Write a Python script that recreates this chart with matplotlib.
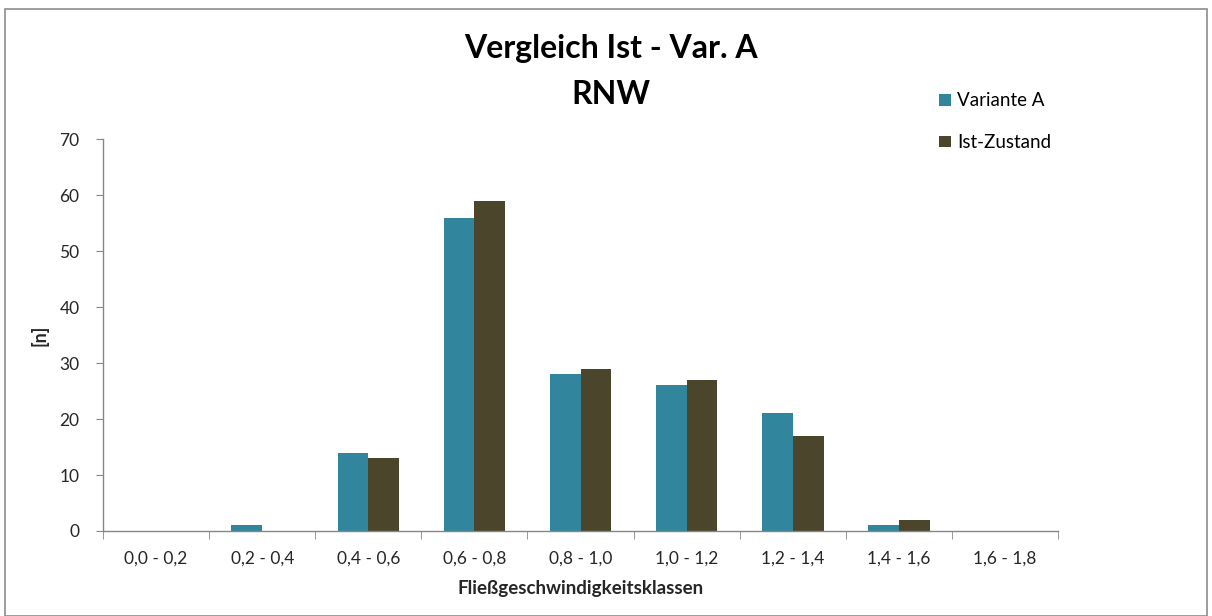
import matplotlib
matplotlib.use("Agg")
import matplotlib.pyplot as plt
from matplotlib.patches import Rectangle
import numpy as np

plt.rcParams['font.family'] = ['Lato', 'DejaVu Sans']

categories = ["0,0 - 0,2", "0,2 - 0,4", "0,4 - 0,6", "0,6 - 0,8", "0,8 - 1,0",
              "1,0 - 1,2", "1,2 - 1,4", "1,4 - 1,6", "1,6 - 1,8"]
variante_a = [0, 1, 14, 56, 28, 26, 21, 1, 0]
ist_zustand = [0, 0, 13, 59, 29, 27, 17, 2, 0]
y_ticks = [0, 10, 20, 30, 40, 50, 60, 70]

teal = "#31859C"
brown = "#4A452B"
axis_gray = "#868686"
text_col = "#262626"

fig = plt.figure(figsize=(12.12, 6.16), dpi=100)
ax = fig.add_axes([0.085, 0.138, 0.788, 0.636])

# outer chart frame
fig.patches.append(Rectangle((0.004, 0.0), 0.992, 0.985, transform=fig.transFigure,
                             fill=False, edgecolor="#8c8c8c", linewidth=1.2))

x = np.arange(len(categories))
w = 0.29
ax.bar(x - w / 2, variante_a, width=w, color=teal, label="Variante A")
ax.bar(x + w / 2, ist_zustand, width=w, color=brown, label="Ist-Zustand")

ax.set_xlim(-0.5, len(categories) - 0.5)
ax.set_ylim(0, 70)
ax.set_yticks(y_ticks)
ax.set_yticklabels([str(v) for v in y_ticks], fontsize=12.5, color=text_col)
ax.set_xticks(x)
ax.set_xticklabels(categories, fontsize=12.5, color=text_col)
ax.tick_params(axis='x', length=0, pad=14)
ax.set_xticks(np.arange(len(categories) + 1) - 0.5, minor=True)
ax.tick_params(axis='x', which='minor', length=6, color=axis_gray, direction='out')
ax.tick_params(axis='y', length=5, color=axis_gray, direction='out', pad=12)

for s in ['top', 'right']:
    ax.spines[s].set_visible(False)
for s in ['left', 'bottom']:
    ax.spines[s].set_color(axis_gray)
    ax.spines[s].set_linewidth(1.0)

ax.set_xlabel("Fließgeschwindigkeitsklassen", fontsize=13.5, fontweight='bold',
              color=text_col, labelpad=10)
ax.set_ylabel("[n]", fontsize=13, fontweight='bold', color=text_col, labelpad=8)

fig.text(0.504, 0.922, "Vergleich Ist - Var. A", ha='center', va='center',
         fontsize=23, fontweight='bold', color='black')
fig.text(0.504, 0.846, "RNW", ha='center', va='center',
         fontsize=23, fontweight='bold', color='black')

fig.legend(loc='upper left', bbox_to_anchor=(0.775, 0.850), frameon=False,
           fontsize=13.5, handlelength=0.6, handleheight=0.6, labelspacing=1.32,
           handletextpad=0.35, borderpad=0, borderaxespad=0,
           bbox_transform=fig.transFigure)

fig.savefig("out.png", dpi=100)
